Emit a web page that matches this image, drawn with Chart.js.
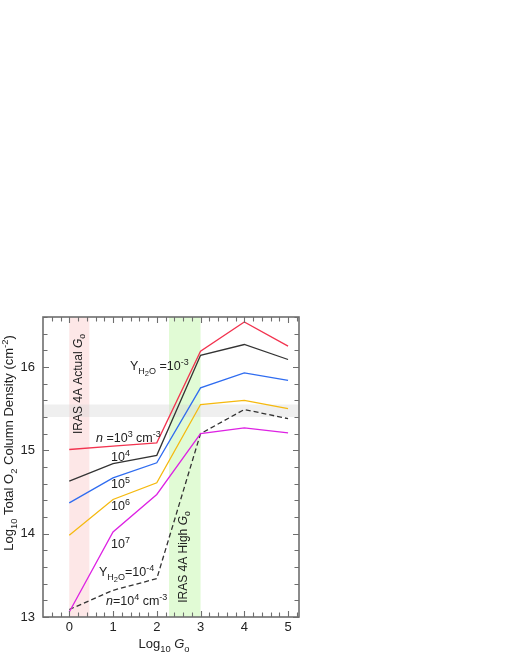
<!DOCTYPE html>
<html>
<head>
<meta charset="utf-8">
<script src="https://cdn.jsdelivr.net/npm/chart.js@4/dist/chart.umd.min.js"></script>
<style>
  body { margin: 0; background: #fff; }
  canvas { display: block; }
</style>
</head>
<body>
<canvas id="o2Chart" width="510" height="660"></canvas>
<script>
// Log10 G0 sampled at integer steps
const logG0 = [0, 1, 2, 3, 4, 5];

// log10 total O2 column for Y(H2O) = 1e-3, one curve per density
const colN1e3 = [15.01, 15.05, 15.09, 16.19, 16.54, 16.25];
const colN1e4 = [14.63, 14.84, 14.94, 16.14, 16.27, 16.09];
const colN1e5 = [14.37, 14.67, 14.85, 15.75, 15.93, 15.84];
const colN1e6 = [13.98, 14.41, 14.61, 15.55, 15.60, 15.50];
const colN1e7 = [13.06, 14.02, 14.47, 15.20, 15.27, 15.21];
// Y(H2O) = 1e-4, n = 1e4
const colLowH2O = [13.09, 13.32, 13.46, 15.20, 15.49, 15.38];

// shaded regions
const actualG0Band = [0, 0.46];
const highG0Band = [2.28, 3.0];
const observedBand = [15.40, 15.55];

const FONT = '"Liberation Sans", Arial, Helvetica, sans-serif';

const toPoints = (ys) => ys.map((y, i) => ({ x: logG0[i], y }));

const series = (data, color, dash) => ({
  data: toPoints(data),
  borderColor: color,
  borderWidth: 1.3,
  borderDash: dash || [],
  pointRadius: 0,
  tension: 0,
  fill: false,
});

// font for one piece of rich text
function pieceFont(p, size) {
  let s = size;
  if (p.s === 'sub' || p.s === 'sup') s = size * 0.72;
  if (p.s === 'sub2') s = size * 0.6;
  return (p.i ? 'italic ' : '') + s.toFixed(1) + 'px ' + FONT;
}

function pieceShift(p, size) {
  if (p.s === 'sub') return size * 0.32;
  if (p.s === 'sub2') return size * 0.5;
  if (p.s === 'sup') return -size * 0.42;
  return 0;
}

// draws text with sub/superscripts, left or centred at x
function drawRich(ctx, parts, x, y, size, align) {
  let w = 0;
  parts.forEach((p) => {
    ctx.font = pieceFont(p, size);
    w += ctx.measureText(p.t).width;
  });
  let cx = align === 'center' ? x - w / 2 : x;
  parts.forEach((p) => {
    ctx.font = pieceFont(p, size);
    ctx.fillText(p.t, cx, y + pieceShift(p, size));
    cx += ctx.measureText(p.t).width;
  });
}

function drawRotated(ctx, parts, x, y, size) {
  ctx.save();
  ctx.translate(x, y);
  ctx.rotate(-Math.PI / 2);
  drawRich(ctx, parts, 0, 0, size, 'center');
  ctx.restore();
}

const yH2O = (eq, exp) => [
  { t: 'Y' }, { t: 'H', s: 'sub' }, { t: '2', s: 'sub2' }, { t: 'O', s: 'sub' },
  { t: eq }, { t: exp, s: 'sup' },
];

const bandsPlugin = {
  id: 'bands',
  beforeDatasetsDraw(chart) {
    const { ctx, chartArea: a, scales: { x, y } } = chart;
    ctx.save();
    ctx.fillStyle = 'rgba(252, 215, 215, 0.6)';
    ctx.fillRect(x.getPixelForValue(actualG0Band[0]), a.top,
      x.getPixelForValue(actualG0Band[1]) - x.getPixelForValue(actualG0Band[0]), a.bottom - a.top);
    ctx.fillStyle = 'rgba(205, 248, 185, 0.6)';
    ctx.fillRect(x.getPixelForValue(highG0Band[0]), a.top,
      x.getPixelForValue(highG0Band[1]) - x.getPixelForValue(highG0Band[0]), a.bottom - a.top);
    ctx.fillStyle = 'rgba(215, 215, 215, 0.4)';
    ctx.fillRect(a.left, y.getPixelForValue(observedBand[1]),
      a.right - a.left, y.getPixelForValue(observedBand[0]) - y.getPixelForValue(observedBand[1]));
    ctx.restore();
  },
  afterDraw(chart) {
    const { ctx, chartArea: a, scales: { x, y } } = chart;
    ctx.save();
    // frame + inward ticks
    ctx.strokeStyle = '#6e6e6e';
    ctx.lineWidth = 1.6;
    ctx.strokeRect(a.left, a.top, a.right - a.left, a.bottom - a.top);
    ctx.lineWidth = 1.1;
    ctx.beginPath();
    for (let k = -3; k <= 26; k++) {
      const v = k * 0.2;
      if (v < x.min || v > x.max) continue;
      const px = Math.round(x.getPixelForValue(v)) + 0.5;
      const len = k % 5 === 0 ? 6 : 4.5;
      ctx.moveTo(px, a.bottom); ctx.lineTo(px, a.bottom - len);
      ctx.moveTo(px, a.top); ctx.lineTo(px, a.top + len);
    }
    for (let k = 65; k <= 83; k++) {
      const v = k * 0.2;
      if (v < y.min || v > y.max) continue;
      const py = Math.round(y.getPixelForValue(v)) + 0.5;
      const len = k % 5 === 0 ? 6 : 4.5;
      ctx.moveTo(a.left, py); ctx.lineTo(a.left + len, py);
      ctx.moveTo(a.right, py); ctx.lineTo(a.right - len, py);
    }
    ctx.stroke();

    // labels
    ctx.fillStyle = '#222';
    ctx.textBaseline = 'alphabetic';
    drawRich(ctx, yH2O(' =10', '-3'), 130, 370, 12.5);
    drawRich(ctx, [{ t: 'n', i: true }, { t: ' =10' }, { t: '3', s: 'sup' }, { t: ' cm' }, { t: '-3', s: 'sup' }], 96, 442, 12.5);
    drawRich(ctx, [{ t: '10' }, { t: '4', s: 'sup' }], 111, 461, 12.5);
    drawRich(ctx, [{ t: '10' }, { t: '5', s: 'sup' }], 111, 488, 12.5);
    drawRich(ctx, [{ t: '10' }, { t: '6', s: 'sup' }], 111, 510, 12.5);
    drawRich(ctx, [{ t: '10' }, { t: '7', s: 'sup' }], 111, 548, 12.5);
    drawRich(ctx, yH2O('=10', '-4'), 99, 576, 12.5);
    drawRich(ctx, [{ t: 'n', i: true }, { t: '=10' }, { t: '4', s: 'sup' }, { t: ' cm' }, { t: '-3', s: 'sup' }], 106, 605, 12.5);

    ctx.textBaseline = 'middle';
    drawRotated(ctx, [{ t: 'IRAS 4A Actual ' }, { t: 'G', i: true }, { t: 'o', s: 'sub' }], 79, 384, 12);
    drawRotated(ctx, [{ t: 'IRAS 4A High ' }, { t: 'G', i: true }, { t: 'o', s: 'sub' }], 184, 557, 12);

    // axis titles
    ctx.textBaseline = 'alphabetic';
    drawRich(ctx, [{ t: 'Log' }, { t: '10', s: 'sub' }, { t: ' ' }, { t: 'G', i: true }, { t: 'o', s: 'sub' }], 164, 648, 13, 'center');
    ctx.save();
    ctx.translate(13, 443);
    ctx.rotate(-Math.PI / 2);
    drawRich(ctx, [{ t: 'Log' }, { t: '10', s: 'sub' }, { t: ' Total O' }, { t: '2', s: 'sub' },
      { t: ' Column Density (cm' }, { t: '-2', s: 'sup' }, { t: ')' }], 0, 0, 13, 'center');
    ctx.restore();
    ctx.restore();
  },
};

const isWhole = (v) => Math.abs(v - Math.round(v)) < 1e-6;

new Chart(document.getElementById('o2Chart'), {
  type: 'line',
  data: {
    datasets: [
      series(colN1e3, '#f2334f'),
      series(colN1e4, '#333333'),
      series(colN1e5, '#2f6cf0'),
      series(colN1e6, '#f5b90f'),
      series(colN1e7, '#dd22e3'),
      series(colLowH2O, '#333333', [5, 3]),
    ],
  },
  options: {
    responsive: false,
    animation: false,
    layout: { padding: { left: 0, right: 211, top: 317, bottom: 0 } },
    plugins: { legend: { display: false }, tooltip: { enabled: false } },
    scales: {
      x: {
        type: 'linear',
        min: -0.6,
        max: 5.25,
        grid: { display: false, drawTicks: false },
        border: { display: false },
        afterFit: (scale) => { scale.height = 43; },
        ticks: {
          stepSize: 0.2,
          autoSkip: false,
          maxRotation: 0,
          padding: 3,
          color: '#222',
          font: { family: FONT, size: 13 },
          callback: (v) => (isWhole(v) ? String(Math.round(v)) : ''),
        },
      },
      y: {
        type: 'linear',
        min: 13,
        max: 16.6,
        grid: { display: false, drawTicks: false },
        border: { display: false },
        afterFit: (scale) => { scale.width = 43; },
        ticks: {
          stepSize: 0.2,
          autoSkip: false,
          padding: 8,
          color: '#222',
          font: { family: FONT, size: 13 },
          callback: (v) => (isWhole(v) ? String(Math.round(v)) : ''),
        },
      },
    },
  },
  plugins: [bandsPlugin],
});
</script>
</body>
</html>
